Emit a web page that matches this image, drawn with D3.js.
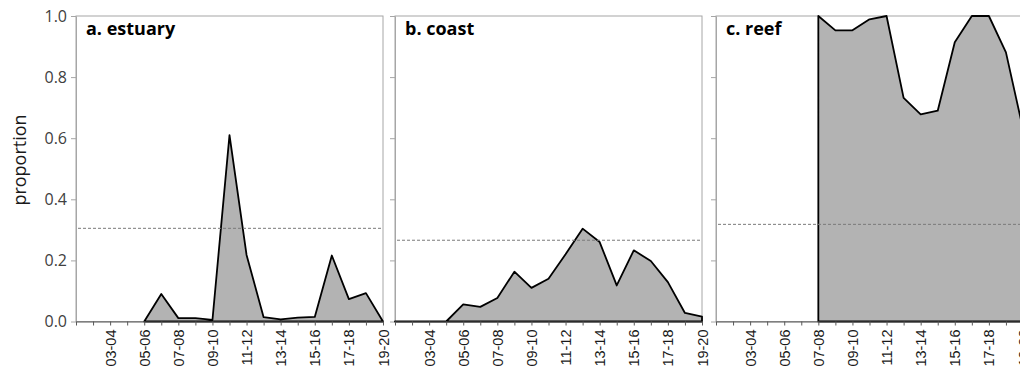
<!DOCTYPE html>
<meta charset="utf-8">
<html lang="en">
<head>
<meta charset="utf-8">
<title>Proportion by habitat</title>
<script src="https://cdn.jsdelivr.net/npm/d3@7"></script>
<style type="text/css">
body { margin: 0; background: #fff; }
.frame { fill: none; stroke: #a6a6a6; stroke-width: 1px; }
.area { fill: #b3b3b3; stroke: #000; stroke-width: 1.8px; stroke-linejoin: round; }
.mean { stroke: #7a7a7a; stroke-width: 1px; stroke-dasharray: 3,2; fill: none; }
.xaxis path, .xaxis line { stroke: #595959; }
.yaxis path, .yaxis line { stroke: #a6a6a6; }
.title { font-family: "Open Sans", sans-serif; font-size: 18px; font-weight: bold; fill: #000; }
.ylabel { font-family: "Open Sans", sans-serif; font-size: 18px; fill: #1a1a1a; }
</style>
</head>
<body>
<div id="chart"></div>
<script type="text/javascript">
"use strict";

var seasons = ["01-02","02-03","03-04","04-05","05-06","06-07","07-08","08-09","09-10","10-11",
               "11-12","12-13","13-14","14-15","15-16","16-17","17-18","18-19","19-20"];
var shownLabels = ["03-04","05-06","07-08","09-10","11-12","13-14","15-16","17-18","19-20"];
var yTicks = [0, 0.2, 0.4, 0.6, 0.8, 1.0];

var panelNames = ["a. estuary", "b. coast", "c. reef"];

var estuary = [null, null, null, null, 0.0, 0.09, 0.011, 0.011, 0.005, 0.61,
               0.218, 0.014, 0.007, 0.013, 0.015, 0.216, 0.073, 0.093, 0.0];
var coast = [0, 0, 0, 0, 0.056, 0.048, 0.077, 0.163, 0.110, 0.140,
             0.220, 0.304, 0.260, 0.118, 0.233, 0.198, 0.129, 0.028, 0.016];
var reef = [null, null, null, null, null, null, 1.0, 0.953, 0.953, 0.989,
            1.0, 0.732, 0.678, 0.690, 0.914, 1.0, 1.0, 0.881, 0.63];

var means = [0.305, 0.266, 0.318];
var series = [estuary, coast, reef];

var width = 1020, height = 376;
var panelLeft = [76, 395, 716];
var panelW = 307;
var plotTop = 16, plotBottom = 321.5;

var svg = d3.select("#chart").append("svg")
    .attr("width", width)
    .attr("height", height);

var x = d3.scalePoint().domain(seasons).range([0, panelW]);
var y = d3.scaleLinear().domain([0, 1]).range([plotBottom, plotTop]);

var area = d3.area()
    .defined(function(d) { return d != null; })
    .x(function(d, i) { return x(seasons[i]); })
    .y0(y(0))
    .y1(function(d) { return y(d); });

series.forEach(function(vals, p) {
  var g = svg.append("g").attr("transform", "translate(" + panelLeft[p] + ",0)");

  g.append("rect").attr("class", "frame")
    .attr("x", 0).attr("y", y(1))
    .attr("width", panelW).attr("height", y(0) - y(1));

  var ya = g.append("g").attr("class", "yaxis")
    .call(d3.axisLeft(y).tickValues(yTicks).tickSize(5).tickSizeOuter(0)
      .tickFormat(p === 0 ? d3.format(".1f") : ""))
    .attr("font-family", "'Open Sans', sans-serif")
    .attr("font-size", 16);
  ya.selectAll("text").attr("x", -9).attr("fill", "#404040");

  g.append("path").attr("class", "area")
    .datum(vals)
    .attr("d", area);

  g.append("line").attr("class", "mean")
    .attr("x1", 2).attr("x2", panelW)
    .attr("y1", y(means[p])).attr("y2", y(means[p]));

  var xa = g.append("g").attr("class", "xaxis")
    .attr("transform", "translate(0," + y(0) + ")")
    .call(d3.axisBottom(x).tickSize(4).tickSizeOuter(0)
      .tickFormat(function(d) { return shownLabels.indexOf(d) >= 0 ? d : ""; }))
    .attr("font-family", "'Liberation Sans', Arial, sans-serif")
    .attr("font-size", 14.5);
  xa.selectAll("text")
    .attr("transform", "rotate(-90)")
    .attr("x", -8).attr("y", 0).attr("dy", "0.35em")
    .attr("fill", "#1a1a1a")
    .style("text-anchor", "end");

  g.append("text").attr("class", "title")
    .attr("x", 10).attr("y", 35)
    .text(panelNames[p]);
});

svg.append("text").attr("class", "ylabel")
  .attr("transform", "translate(26,160) rotate(-90)")
  .style("text-anchor", "middle")
  .text("proportion");
</script>
</body>
</html>
